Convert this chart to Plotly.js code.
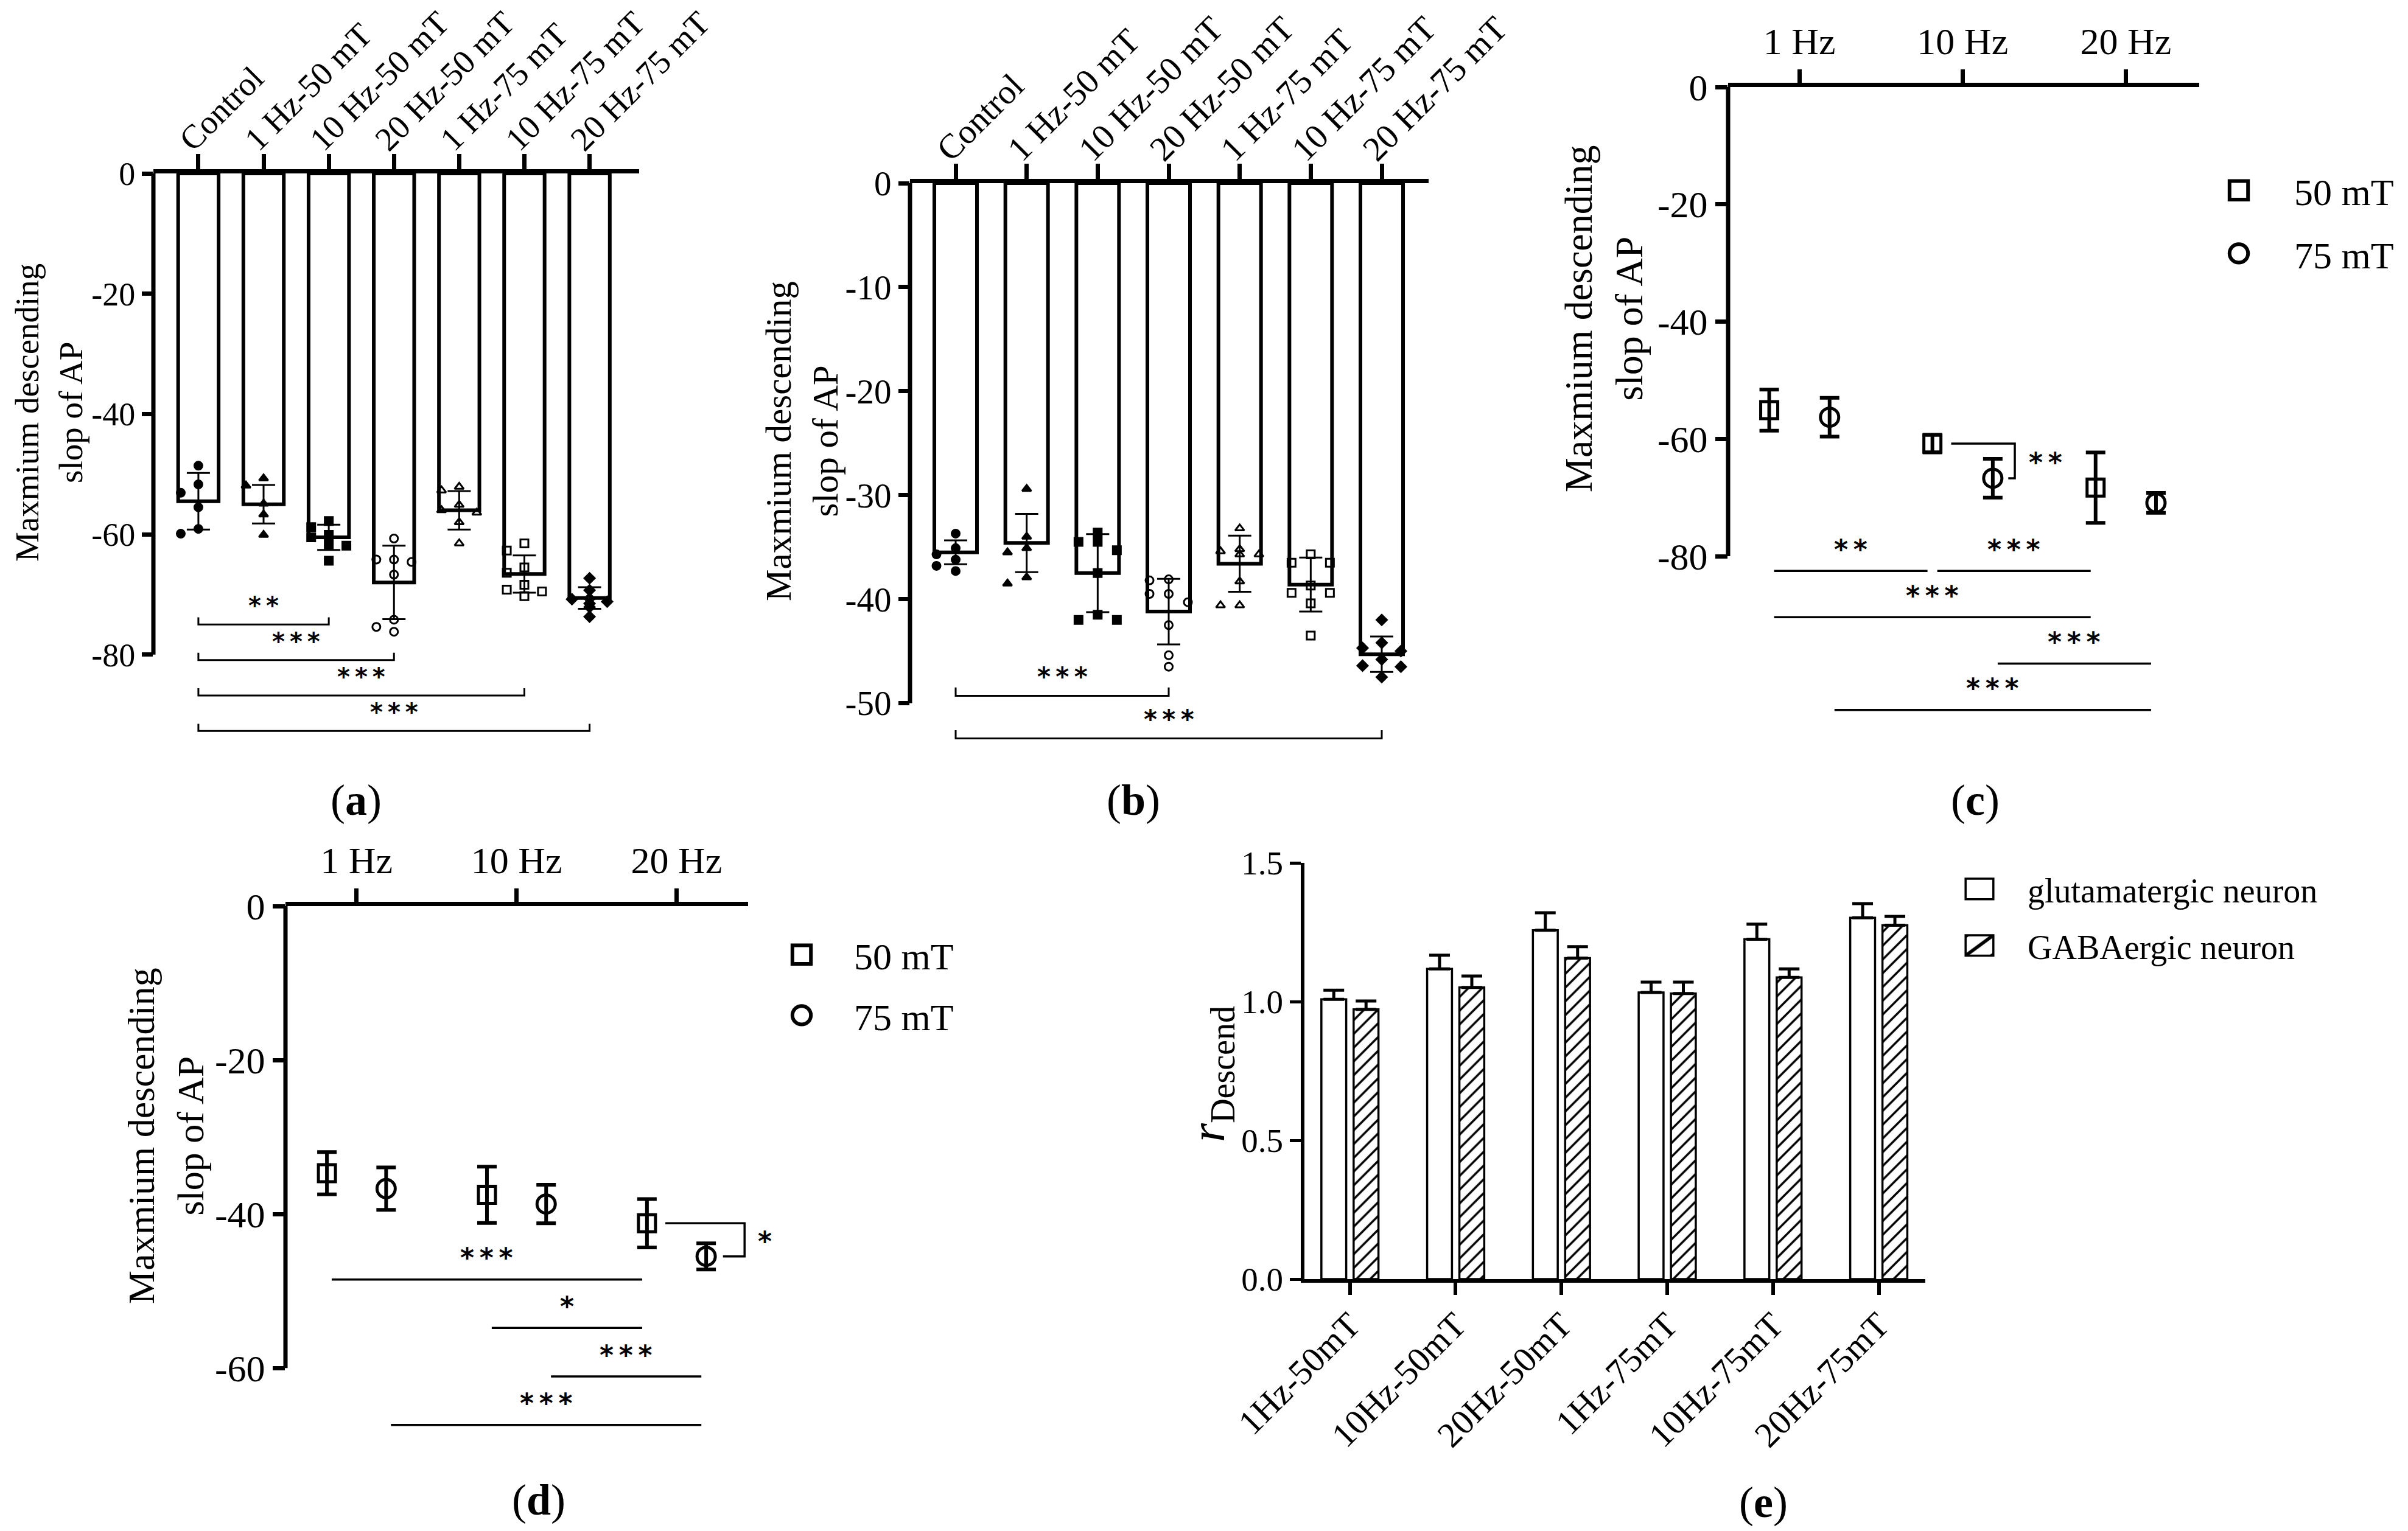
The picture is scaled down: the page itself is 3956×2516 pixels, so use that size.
<!DOCTYPE html>
<html>
<head>
<meta charset="utf-8">
<script src="https://cdn.plot.ly/plotly-3.0.1.min.js"></script>
<style>
  html, body { margin: 0; padding: 0; background: #fff; }
</style>
</head>
<body>
<div id="fig" style="width:3956px;height:2516px"></div>
<script>
// ---- data ----
const groupsAB = ['Control', '1 Hz-50 mT', '10 Hz-50 mT', '20 Hz-50 mT', '1 Hz-75 mT', '10 Hz-75 mT', '20 Hz-75 mT'];

// (a) glutamatergic neurons
const meanA = [-54.5, -55.0, -60.5, -68.0, -56.0, -66.6, -70.6];
const sdA = [4.7, 3.2, 2.1, 6.1, 3.2, 3.1, 1.8];
const ptsA = [
  [-48.6, -51.7, -53.1, -55.5, -59.1, -59.9],
  [-50.7, -51.9, -54.9, -56.7, -60.1],
  [-57.8, -58.8, -60.1, -60.5, -61.7, -61.9, -64.4],
  [-60.7, -64.2, -64.6, -64.2, -66.7, -74.2, -76.2, -75.4],
  [-52.1, -52.7, -55.1, -56.0, -56.4, -58.0, -61.5],
  [-61.5, -62.7, -65.5, -66.4, -68.4, -69.2, -69.5, -70.3],
  [-67.3, -69.3, -70.7, -70.8, -71.2, -71.5, -72.1, -73.7]
];

// (b) GABAergic neurons
const meanB = [-35.5, -34.6, -37.5, -41.2, -36.6, -38.6, -45.3];
const sdB = [1.15, 2.8, 3.75, 3.15, 2.7, 2.6, 1.7];
const ptsB = [
  [-33.7, -35.1, -35.7, -36.2, -36.8, -37.3],
  [-29.4, -34.0, -35.1, -35.5, -37.9, -38.5],
  [-33.6, -34.5, -34.5, -35.3, -37.5, -41.5, -42.0, -42.0],
  [-38.1, -38.2, -39.5, -39.5, -40.3, -42.5, -45.4, -46.5],
  [-33.2, -35.2, -35.4, -35.7, -35.7, -38.3, -40.6, -40.6],
  [-35.7, -36.5, -36.5, -38.7, -39.4, -39.4, -40.4, -43.5],
  [-42.0, -44.2, -44.7, -45.0, -45.8, -46.4, -46.5, -47.5]
];

// (c) / (d) mean +- SD by frequency
const freqs = ['1 Hz', '10 Hz', '20 Hz'];
const c50 = [-55.1, -60.8, -68.3];
const c50sd = [3.5, 1.5, 6.0];
const c75 = [-56.3, -66.7, -70.9];
const c75sd = [3.3, 3.3, 1.7];
const d50 = [-34.7, -37.5, -41.2];
const d50sd = [2.75, 3.65, 3.15];
const d75 = [-36.7, -38.7, -45.5];
const d75sd = [2.75, 2.5, 1.7];

// (e) ratio
const groupsE = ['1Hz-50mT', '10Hz-50mT', '20Hz-50mT', '1Hz-75mT', '10Hz-75mT', '20Hz-75mT'];
const glut = [1.008, 1.118, 1.257, 1.033, 1.225, 1.302];
const glutErr = [0.033, 0.049, 0.063, 0.037, 0.054, 0.051];
const gaba = [0.972, 1.051, 1.157, 1.029, 1.087, 1.275];
const gabaErr = [0.030, 0.041, 0.041, 0.041, 0.031, 0.032];

// significance comparisons
const sigA = [[0, 2, '**'], [0, 3, '***'], [0, 5, '***'], [0, 6, '***']];
const sigB = [[0, 3, '***'], [0, 6, '***']];
// [series, index, series, index, label, level]
const sigC = [['50', 0, '50', 1, '**', 0], ['50', 1, '50', 2, '***', 0], ['50', 0, '50', 2, '***', 1],
              ['75', 1, '75', 2, '***', 2], ['75', 0, '75', 2, '***', 3]];
const sigD = [['50', 0, '50', 2, '***', 0], ['50', 1, '50', 2, '*', 1], ['75', 1, '75', 2, '***', 2],
              ['75', 0, '75', 2, '***', 3]];
const pairC = [1, '**'];  // 50 vs 75 mT at 10 Hz
const pairD = [2, '*'];   // 50 vs 75 mT at 20 Hz

// ---- layout helpers ----
const W = 3956, H = 2516;
const FONT = '"Liberation Serif", "Times New Roman", Times, serif';
const STAR = { family: '"DejaVu Sans", Arial, sans-serif', weight: 'bold', color: 'black' };
const px = p => p / W;
const py = p => 1 - p / H;
const idxAB = groupsAB.map((g, i) => i);
const idxF = freqs.map((f, i) => i);
const idxE = groupsE.map((g, i) => i);
const symbolsAB = ['circle', 'triangle-up', 'square', 'circle-open', 'triangle-up-open', 'square-open', 'diamond'];
const DODGE = 0.185;
const stars = s => s.split('').join('\u2009');

// simple beeswarm: spread points that would overlap (centre, left, right)
function swarm(vals, thr, w) {
  const placed = [];
  const off = vals.map(() => 0);
  const order = vals.map((v, i) => i).sort((a, b) => vals[b] - vals[a]);
  const cands = [0, -w, w];
  order.forEach(i => {
    const c = cands.find(o => !placed.some(p => p.o === o && Math.abs(p.v - vals[i]) < thr));
    off[i] = c === undefined ? 0 : c;
    placed.push({ o: off[i], v: vals[i] });
  });
  return off;
}

function dotTrace(pts, thr, xa, ya) {
  const x = [], y = [], sym = [];
  pts.forEach((vals, g) => {
    const off = swarm(vals, thr, 0.27);
    vals.forEach((v, k) => { x.push(g + off[k]); y.push(v); sym.push(symbolsAB[g]); });
  });
  return {
    type: 'scatter', mode: 'markers', x: x, y: y, xaxis: xa, yaxis: ya,
    marker: { symbol: sym, size: 13, color: 'black', line: { color: 'black', width: 3 } },
    showlegend: false, hoverinfo: 'skip'
  };
}

function barTrace(means, sds, xa, ya, width) {
  return {
    type: 'bar', x: idxAB, y: means, xaxis: xa, yaxis: ya, width: width,
    marker: { color: 'white', line: { color: 'black', width: 6 } },
    error_y: { type: 'data', array: sds, visible: true, color: 'black', thickness: 3, width: 19 },
    showlegend: false, hoverinfo: 'skip'
  };
}

function meanTrace(x, y, sd, sym, name, xa, ya, lg, size) {
  return {
    type: 'scatter', mode: 'markers', x: x, y: y, xaxis: xa, yaxis: ya, name: name,
    legend: lg, legendgroup: lg + name,
    marker: { symbol: sym, size: size, color: 'black', line: { color: 'black', width: 5 } },
    error_y: { type: 'data', array: sd, visible: true, color: 'black', thickness: 6, width: 16 },
    hoverinfo: 'skip'
  };
}

const traces = [
  barTrace(meanA, sdA, 'x', 'y', 0.62),
  dotTrace(ptsA, 1.4, 'x', 'y'),
  barTrace(meanB, sdB, 'x2', 'y2', 0.6),
  dotTrace(ptsB, 0.8, 'x2', 'y2'),
  meanTrace(idxF.map(i => i - DODGE), c50, c50sd, 'square-open', '50 mT', 'x3', 'y3', 'legend', 28),
  meanTrace(idxF.map(i => i + DODGE), c75, c75sd, 'circle-open', '75 mT', 'x3', 'y3', 'legend', 30),
  meanTrace(idxF.map(i => i - DODGE), d50, d50sd, 'square-open', '50 mT', 'x4', 'y4', 'legend2', 28),
  meanTrace(idxF.map(i => i + DODGE), d75, d75sd, 'circle-open', '75 mT', 'x4', 'y4', 'legend2', 30),
  {
    type: 'bar', x: idxE, y: glut, name: 'glutamatergic neuron', xaxis: 'x5', yaxis: 'y5',
    legend: 'legend3', legendgroup: 'glut',
    marker: { color: 'white', line: { color: 'black', width: 3.5 } },
    error_y: { type: 'data', symmetric: false, array: glutErr, arrayminus: glutErr.map(() => 0),
               color: 'black', thickness: 5, width: 17 },
    hoverinfo: 'skip'
  },
  {
    type: 'bar', x: idxE, y: gaba, name: 'GABAergic neuron', xaxis: 'x5', yaxis: 'y5',
    legend: 'legend3', legendgroup: 'gaba',
    marker: { color: 'white', line: { color: 'black', width: 3.5 },
              pattern: { shape: '/', fgcolor: 'black', bgcolor: 'white', size: 16, solidity: 0.22 } },
    error_y: { type: 'data', symmetric: false, array: gabaErr, arrayminus: gabaErr.map(() => 0),
               color: 'black', thickness: 5, width: 17 },
    hoverinfo: 'skip'
  }
];

// ---- axes ----
function topCatAxis(domain, range, vals, text, fsize, angle) {
  return {
    domain: domain, range: range, type: 'linear', side: 'top',
    tickmode: 'array', tickvals: vals, ticktext: text, tickangle: angle,
    ticks: 'outside', ticklen: 25, tickwidth: 7, tickcolor: 'black',
    showline: true, linewidth: 7, linecolor: 'black',
    showgrid: false, zeroline: false,
    tickfont: { family: FONT, size: fsize, color: 'black' }
  };
}
function leftAxis(domain, range, vals, fsize) {
  return {
    domain: domain, range: range, tickmode: 'array', tickvals: vals, ticktext: vals.map(String),
    ticks: 'outside', ticklen: 20, tickwidth: 7, tickcolor: 'black',
    showline: false, showgrid: false, zeroline: false,
    tickfont: { family: FONT, size: fsize, color: 'black' }
  };
}

const layout = {
  width: W, height: H,
  margin: { l: 0, r: 0, t: 0, b: 0 },
  paper_bgcolor: 'white', plot_bgcolor: 'rgba(0,0,0,0)',
  font: { family: FONT, color: 'black' },
  hovermode: false,
  showlegend: true,
  barmode: 'group', bargap: 0.39, bargroupgap: 0.23,

  xaxis: Object.assign(topCatAxis([px(252), px(1050)], [-0.69, 6.76], idxAB, groupsAB, 55, -45),
                       { anchor: 'y', ticklabelstandoff: -28, ticklabelshift: -28 }),
  yaxis: Object.assign(leftAxis([py(1224), py(285)], [-95, 0], [0, -20, -40, -60, -80], 54), { anchor: 'x', ticklen: 18 }),

  xaxis2: Object.assign(topCatAxis([px(1495), px(2347)], [-0.643, 6.66], idxAB, groupsAB, 57, -45),
                        { anchor: 'y2', ticklabelstandoff: -30, ticklabelshift: -28 }),
  yaxis2: Object.assign(leftAxis([py(1258), py(301)], [-56, 0], [0, -10, -20, -30, -40, -50], 57), { anchor: 'x2', ticklen: 18 }),

  xaxis3: Object.assign(topCatAxis([px(2839), px(3613)], [-0.437, 2.45], idxF, freqs, 62, 0), { anchor: 'y3', ticklen: 22 }),
  yaxis3: Object.assign(leftAxis([py(1184), py(143)], [-108, 0], [0, -20, -40, -60, -80], 62), { anchor: 'x3' }),

  xaxis4: Object.assign(topCatAxis([px(469), px(1229)], [-0.444, 2.447], idxF, freqs, 62, 0), { anchor: 'y4', ticklen: 22 }),
  yaxis4: Object.assign(leftAxis([py(2362), py(1489)], [-69, 0], [0, -20, -40, -60], 62), { anchor: 'x4' }),

  xaxis5: {
    domain: [px(2143), px(3163)], range: [-0.43, 5.44], anchor: 'y5',
    tickmode: 'array', tickvals: idxE, ticktext: groupsE, tickangle: -45,
    ticks: 'outside', ticklen: 20, tickwidth: 6, tickcolor: 'black',
    showline: true, linewidth: 6, linecolor: 'black', showgrid: false, zeroline: false,
    ticklabelstandoff: -8,
    tickfont: { family: FONT, size: 58, color: 'black' }
  },
  yaxis5: {
    domain: [py(2102), py(1418)], range: [0, 1.5], anchor: 'x5',
    tickmode: 'array', tickvals: [0, 0.5, 1, 1.5], ticktext: ['0.0', '0.5', '1.0', '1.5'],
    ticks: 'outside', ticklen: 18, tickwidth: 5, tickcolor: 'black',
    showline: true, linewidth: 6, linecolor: 'black', showgrid: false, zeroline: false,
    tickfont: { family: FONT, size: 55, color: 'black' }
  },

  legend: {
    x: px(3587), y: py(266), xanchor: 'left', yanchor: 'top', itemwidth: 172,
    tracegroupgap: 20, bgcolor: 'rgba(0,0,0,0)',
    font: { family: FONT, size: 62, color: 'black' }
  },
  legend2: {
    x: px(1231), y: py(1522), xanchor: 'left', yanchor: 'top', itemwidth: 162,
    tracegroupgap: 16, bgcolor: 'rgba(0,0,0,0)',
    font: { family: FONT, size: 62, color: 'black' }
  },
  legend3: {
    x: px(3173), y: py(1418), xanchor: 'left', yanchor: 'top', itemwidth: 148,
    tracegroupgap: 17, bgcolor: 'rgba(0,0,0,0)',
    font: { family: FONT, size: 56, color: 'black' }
  },
  shapes: [],
  annotations: []
};

const shapes = layout.shapes;
const ann = layout.annotations;
const LINE = { color: 'black', width: 3 };

// data value -> paper fraction along an axis
function toPaper(axName, v) {
  const a = layout[axName];
  return a.domain[0] + (v - a.range[0]) / (a.range[1] - a.range[0]) * (a.domain[1] - a.domain[0]);
}

// y axis lines that stop at the last labelled tick
[['x', 'y', -80], ['x2', 'y2', -50], ['x3', 'y3', -80], ['x4', 'y4', -60]].forEach(([xa, ya, lo]) => {
  shapes.push({ type: 'line', xref: xa + ' domain', yref: ya, x0: 0, x1: 0, y0: 0, y1: lo,
                line: { color: 'black', width: 7 } });
});

// brackets for bar panels
function barBrackets(sig, xa, ya, base, step, tick, fsize) {
  sig.forEach(([i, j, lab], k) => {
    const y = base - k * step;
    shapes.push({ type: 'path', xref: xa, yref: ya, line: LINE,
                  path: `M ${i},${y + tick} L ${i},${y} L ${j},${y} L ${j},${y + tick}` });
    ann.push({ xref: xa, yref: ya, x: (i + j) / 2, y: y, yshift: 31, text: stars(lab), showarrow: false,
               font: Object.assign({ size: fsize }, STAR) });
  });
}
barBrackets(sigA, 'x', 'y', -75, 5.9, 1.2, 40);
barBrackets(sigB, 'x2', 'y2', -49.3, 4.1, 0.8, 42);

// lines for the frequency panels
function freqLines(sig, xa, ya, base, step, fsize) {
  sig.forEach(([s0, i0, s1, i1, lab, lev]) => {
    const x0 = i0 + (s0 === '50' ? -DODGE : DODGE) + 0.03;
    const x1 = i1 + (s1 === '50' ? -DODGE : DODGE) - 0.03;
    const y = base - lev * step;
    shapes.push({ type: 'line', xref: xa, yref: ya, x0: x0, x1: x1, y0: y, y1: y, line: { color: 'black', width: 3.5 } });
    ann.push({ xref: xa, yref: ya, x: (x0 + x1) / 2, y: y, yshift: 36, text: stars(lab), showarrow: false,
               font: Object.assign({ size: fsize }, STAR) });
  });
}
freqLines(sigC, 'x3', 'y3', -82.5, 7.9, 44);
freqLines(sigD, 'x4', 'y4', -48.5, 6.3, 44);

function pairBracket(pair, m50, m75, xa, ya, xv, xs, xt) {
  const [i, lab] = pair;
  const ys = m50[i], yc = m75[i];
  shapes.push({ type: 'path', xref: xa, yref: ya, line: { color: 'black', width: 3.5 },
                path: `M ${i - 0.07},${ys} H ${i + xv} V ${yc} H ${i + xs}` });
  ann.push({ xref: 'paper', yref: ya, x: toPaper(xa.replace('x', 'xaxis'), i + xt), y: (ys + yc) / 2,
             xanchor: 'center', yanchor: 'middle', yshift: -2, text: stars(lab), showarrow: false,
             font: Object.assign({ size: 44 }, STAR) });
}
pairBracket(pairC, c50, c75, 'x3', 'y3', 0.32, 0.28, 0.51);
pairBracket(pairD, d50, d75, 'x4', 'y4', 0.425, 0.29, 0.55);

// axis titles
const TITLE_AP = 'Maxmium descending<br>slop of AP';
[[80, 678, 55], [1317, 725, 59], [2635, 524, 64], [272, 1867, 62]].forEach(([x, y, s]) => {
  ann.push({ xref: 'paper', yref: 'paper', x: px(x), y: py(y), text: TITLE_AP, textangle: -90,
             showarrow: false, xanchor: 'center', yanchor: 'middle',
             font: { family: FONT, size: s, color: 'black' } });
});
ann.push({ xref: 'paper', yref: 'paper', x: px(1990), y: py(1765), xanchor: 'center', yanchor: 'middle',
           text: '<i>r</i><sub><span style="font-size:56px">Descend</span></sub>',
           textangle: -90, showarrow: false, font: { family: FONT, size: 80, color: 'black' } });

// panel labels
[['a', 585, 1315], ['b', 1862, 1315], ['c', 3245, 1315], ['d', 885, 2465], ['e', 2897, 2469]].forEach(([l, x, y]) => {
  ann.push({ xref: 'paper', yref: 'paper', x: px(x), y: py(y), xanchor: 'center', yanchor: 'middle',
             text: '(<b>' + l + '</b>)', showarrow: false,
             font: { family: FONT, size: 72, color: 'black' } });
});

Plotly.newPlot('fig', traces, layout, { staticPlot: true, displayModeBar: false }).then(gd => {
  // enlarge legend swatches to the size used in the figure
  gd.querySelectorAll('.legendpoints path').forEach(p => {
    const isBar = /^M6,6H-6V-6H6Z/.test(p.getAttribute('d') || '');
    const t = p.getAttribute('transform') || '';
    p.setAttribute('transform', t + (isBar ? ' scale(3.8,2.8)' : ' scale(1.9)'));
    p.style.vectorEffect = 'non-scaling-stroke';
    if (!isBar) p.style.strokeWidth = '6px';
  });
});
</script>
</body>
</html>
